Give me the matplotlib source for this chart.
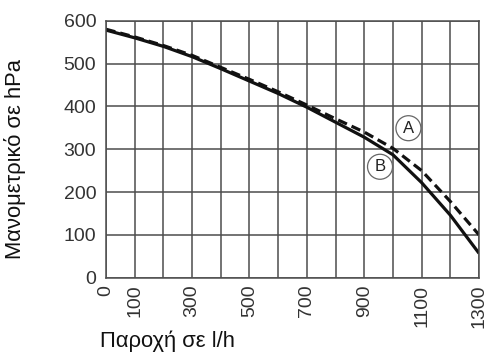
import matplotlib.pyplot as plt

plt.rcParams['font.family'] = ['Liberation Sans', 'DejaVu Sans']

# Παροχή (l/h)
flow = [0, 100, 200, 300, 400, 500, 600, 700, 800, 900, 1000, 1100, 1200, 1300]
# καμπύλη A (διακεκομμένη)
head_a = [580, 562, 542, 519, 491, 463, 434, 403, 371, 340, 302, 250, 178, 100]
# καμπύλη B (συνεχής)
head_b = [578, 560, 540, 516, 488, 459, 430, 398, 363, 328, 287, 222, 146, 57]

xticks = [0, 100, 300, 500, 700, 900, 1100, 1300]
yticks = [0, 100, 200, 300, 400, 500, 600]

fig = plt.figure(figsize=(4.88, 3.61), dpi=100)
ax = fig.add_axes([0.2172, 0.2307, 0.7644, 0.712])

grid_col = '#4d4d4d'
ax.set_xticks(range(0, 1301, 100), minor=True)
ax.set_xticks(xticks)
ax.set_yticks(yticks)
ax.grid(True, which='both', axis='x', color=grid_col, lw=1.1)
ax.grid(True, axis='y', color=grid_col, lw=1.1)
ax.tick_params(which='both', length=0)
ax.tick_params(axis='y', pad=7, labelsize=14, labelcolor='#333333')
ax.tick_params(axis='x', pad=5, labelsize=14, labelcolor='#333333', labelrotation=90)
for s in ax.spines.values():
    s.set_color(grid_col)
    s.set_linewidth(1.1)

ax.plot(flow, head_b, color='#111111', lw=2.3, solid_capstyle='butt')
ax.plot(flow, head_a, color='#111111', lw=2.3, dashes=(3.0, 1.6))

ax.set_xlim(0, 1300)
ax.set_ylim(0, 600)

circ = dict(boxstyle='circle,pad=0.3', fc='white', ec='#666666', lw=0.9)
ax.text(1054, 349, 'A', fontsize=12, ha='center', va='center', bbox=circ, color='#222222')
ax.text(955, 259, 'B', fontsize=12, ha='center', va='center', bbox=circ, color='#222222')

ax.set_xlabel('Παροχή σε l/h', fontsize=15.8, ha='left', va='top', color='#111111')
ax.xaxis.set_label_coords(-0.016, -0.205)
ax.set_ylabel('Μανομετρικό σε hPa', fontsize=15.8, ha='center', va='center', color='#111111')
ax.yaxis.set_label_coords(-0.245, 0.46)

fig.savefig('out.png', dpi=100)
